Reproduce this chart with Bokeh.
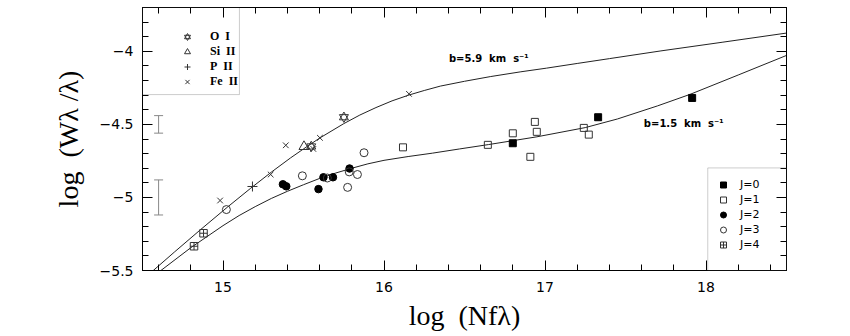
from bokeh.plotting import figure
from bokeh.models import (Range1d, LinearAxis, FixedTicker, Legend, LegendItem,
                          BoxAnnotation, Whisker, TeeHead, ColumnDataSource)
from bokeh.core.properties import value
from bokeh.embed import file_html
from bokeh.resources import INLINE

NB = "\u00a0"

# ---------------- data ----------------
# curves of growth: log(Nf lambda) -> log(W_lambda / lambda)
cog_b59_x = [14.565, 14.70, 14.862, 15.03, 15.172, 15.30, 15.42, 15.50, 15.60, 15.75, 15.85, 15.95,
             16.05, 16.155, 16.25, 16.35, 16.50, 16.66, 16.85, 17.01, 17.20, 17.40, 17.72, 18.10, 18.50]
cog_b59_y = [-5.502, -5.372, -5.219, -5.064, -4.937, -4.827, -4.729, -4.668, -4.594, -4.495, -4.436, -4.385,
             -4.339, -4.299, -4.268, -4.238, -4.205, -4.173, -4.140, -4.115, -4.083, -4.050, -3.997, -3.938, -3.875]
cog_b15_x = [14.60, 14.80, 15.00, 15.10, 15.20, 15.30, 15.40, 15.50, 15.60, 15.70, 15.80, 15.90, 16.00,
             16.15, 16.30, 16.47, 16.65, 16.95, 17.25, 17.45, 17.70, 17.90, 18.20, 18.50]
cog_b15_y = [-5.512, -5.344, -5.193, -5.124, -5.063, -5.007, -4.958, -4.913, -4.870, -4.833, -4.800, -4.770, -4.746,
             -4.720, -4.697, -4.668, -4.638, -4.585, -4.522, -4.463, -4.373, -4.295, -4.162, -4.028]
curve_labels = ["b=5.9" + NB + " km" + NB + " s\u207b\u00b9", "b=1.5" + NB + " km" + NB + " s\u207b\u00b9"]

# metal lines
oi_x = [15.548, 15.751]
oi_y = [-4.651, -4.451]
siii_x = [15.503]
siii_y = [-4.652]
pii_x = [15.183]
pii_y = [-4.925]
feii_x = [14.982, 15.296, 15.390, 15.561, 15.602, 16.155]
feii_y = [-5.021, -4.843, -4.643, -4.668, -4.592, -4.291]

# H2 rotational levels
j0_x = [16.800, 17.330, 17.914]
j0_y = [-4.629, -4.451, -4.319]
j1_x = [16.118, 16.645, 16.800, 16.909, 16.937, 16.949, 17.241, 17.272]
j1_y = [-4.657, -4.640, -4.561, -4.722, -4.483, -4.551, -4.524, -4.570]
j2_x = [15.372, 15.393, 15.593, 15.624, 15.683, 15.786]
j2_y = [-4.910, -4.924, -4.943, -4.862, -4.862, -4.802]
j3_x = [15.021, 15.493, 15.648, 15.774, 15.784, 15.835, 15.876]
j3_y = [-5.083, -4.852, -4.867, -4.931, -4.825, -4.843, -4.694]
j4_x = [14.820, 14.879]
j4_y = [-5.334, -5.245]

# typical error bars
err_x = [14.6, 14.6]
err_y = [-4.5, -5.0]
err_half = [0.06, 0.12]

# axes
x_ticks = [15, 16, 17, 18]
x_tick_labels = ["15", "16", "17", "18"]
y_ticks = [-5.5, -5.0, -4.5, -4.0]
y_tick_labels = ["\u22125.5", "\u22125", "\u22124.5", "\u22124"]
x_label = "log" + NB + " (Nf\u03bb)"
y_label = "log" + NB + " (W\u03bb /\u03bb)"
legend_metal = ["O" + NB + " I", "Si" + NB + " II", "P" + NB + " II", "Fe" + NB + " II"]
legend_h2 = ["J=0", "J=1", "J=2", "J=3", "J=4"]

# ---------------- layout / styling ----------------
x_lo, x_hi = 14.5, 18.5
y_lo, y_hi = -5.5, -3.7
curve_label_x = [16.403, 17.614]
curve_label_y = [-4.052, -4.497]

p = figure(frame_width=644, frame_height=263,
           x_range=Range1d(x_lo, x_hi), y_range=Range1d(y_lo, y_hi),
           output_backend="svg", toolbar_location=None,
           min_border_left=142, min_border_right=60, min_border_top=7, min_border_bottom=62)
p.grid.visible = False
p.outline_line_color = "black"
p.outline_line_width = 1
p.background_fill_color = "white"
p.border_fill_color = "white"

x_minor = [round(14.6 + 0.2 * i, 1) for i in range(20)]
y_minor = [round(-5.5 + 0.1 * i, 1) for i in range(19)]

p.add_layout(LinearAxis(), "above")
p.add_layout(LinearAxis(), "right")

for ax in p.xaxis:
    ax.ticker = FixedTicker(ticks=x_ticks, minor_ticks=x_minor)
for ax in p.yaxis:
    ax.ticker = FixedTicker(ticks=y_ticks, minor_ticks=y_minor)

for ax in p.axis:
    ax.major_tick_in = 10
    ax.major_tick_out = 0
    ax.minor_tick_in = 6
    ax.minor_tick_out = 0
    ax.axis_line_color = "black"
    ax.major_tick_line_color = "black"
    ax.minor_tick_line_color = "black"
    ax.major_label_text_font = "DejaVu Sans"
    ax.major_label_text_font_size = "14px"
    ax.major_label_text_color = "black"

bottom = p.below[0]
left = p.left[0]
top = p.above[0]
right = p.right[0]

bottom.major_label_overrides = dict(zip(x_ticks, x_tick_labels))
left.major_label_overrides = dict(zip(y_ticks, y_tick_labels))
bottom.major_label_standoff = 11
left.major_label_standoff = 9
for ax in (top, right):
    ax.major_label_text_color = None
    ax.major_label_text_font_size = "1px"
    ax.major_label_standoff = 0

bottom.axis_label = x_label
left.axis_label = y_label
for ax in (bottom, left):
    ax.axis_label_text_font = "Liberation Serif"
    ax.axis_label_text_font_size = "28px"
    ax.axis_label_text_font_style = "normal"
    ax.axis_label_text_color = "black"
bottom.axis_label_standoff = 5
left.axis_label_standoff = 13

# curves
line_col = "#222222"
p.line(cog_b59_x, cog_b59_y, line_color=line_col, line_width=1)
p.line(cog_b15_x, cog_b15_y, line_color=line_col, line_width=1)
p.text(x=curve_label_x, y=curve_label_y, text=curve_labels,
       text_font=value("DejaVu Sans"), text_font_size="10px", text_font_style="bold",
       text_baseline="middle", text_align="left", text_color="black")

# error bars
err_src = ColumnDataSource(dict(x=err_x, y=err_y,
                                upper=[a + b for a, b in zip(err_y, err_half)],
                                lower=[a - b for a, b in zip(err_y, err_half)]))
err_col = "#888888"
p.add_layout(Whisker(source=err_src, base="x", upper="upper", lower="lower", dimension="height",
                     line_color=err_col, line_width=1,
                     upper_head=TeeHead(size=9, line_color=err_col, line_width=1),
                     lower_head=TeeHead(size=9, line_color=err_col, line_width=1)))

mk = "#333333"
# metal lines
r_oi1 = p.scatter(oi_x, oi_y, marker="triangle", size=9, fill_color=None, line_color=mk, line_width=1)
r_oi2 = p.scatter(oi_x, oi_y, marker="inverted_triangle", size=9, fill_color=None, line_color=mk, line_width=1)
r_si = p.scatter(siii_x, siii_y, marker="triangle", size=10, fill_color=None, line_color=mk, line_width=1)
r_p = p.scatter(pii_x, pii_y, marker="cross", size=10, line_color=mk, line_width=1)
r_fe = p.scatter(feii_x, feii_y, marker="x", size=8, line_color=mk, line_width=1)

# H2 levels
r_j0 = p.scatter(j0_x, j0_y, marker="square", size=7, fill_color="black", line_color="black")
r_j1 = p.scatter(j1_x, j1_y, marker="square", size=7, fill_color=None, line_color=mk, line_width=1)
r_j2 = p.scatter(j2_x, j2_y, marker="circle", size=7.5, fill_color="black", line_color="black")
r_j3 = p.scatter(j3_x, j3_y, marker="circle", size=8, fill_color=None, line_color=mk, line_width=1)
r_j4 = p.scatter(j4_x, j4_y, marker="square_cross", size=7.5, fill_color=None, line_color=mk, line_width=1)

# legend boxes
box_col = "#555555"
p.add_layout(BoxAnnotation(right=15.102, bottom=-4.296, fill_color=None, fill_alpha=0,
                           line_color=box_col, line_width=1))
p.add_layout(BoxAnnotation(left=18.011, top=-4.798, fill_color=None, fill_alpha=0,
                           line_color=box_col, line_width=1))

metal_renderers = [[r_oi1, r_oi2], [r_si], [r_p], [r_fe]]
h2_renderers = [[r_j0], [r_j1], [r_j2], [r_j3], [r_j4]]

leg1 = Legend(items=[LegendItem(label=l, renderers=r) for l, r in zip(legend_metal, metal_renderers)],
              location="top_left", margin=22, padding=0, spacing=0,
              glyph_width=46, glyph_height=15, label_height=15, label_standoff=0, label_width=40,
              label_text_font="Liberation Serif", label_text_font_style="bold",
              label_text_font_size="12px", label_text_color="black",
              background_fill_alpha=0, border_line_alpha=0, border_line_color=None)
leg2 = Legend(items=[LegendItem(label=l, renderers=r) for l, r in zip(legend_h2, h2_renderers)],
              location="bottom_right", margin=18, padding=0, spacing=0,
              glyph_width=16, glyph_height=15, label_height=15, label_standoff=9, label_width=28,
              label_text_font="DejaVu Sans", label_text_font_size="11px", label_text_color="black",
              background_fill_alpha=0, border_line_alpha=0, border_line_color=None)
p.add_layout(leg1)
p.add_layout(leg2)

open("out.html", "w").write(file_html(p, INLINE, "curve of growth"))
